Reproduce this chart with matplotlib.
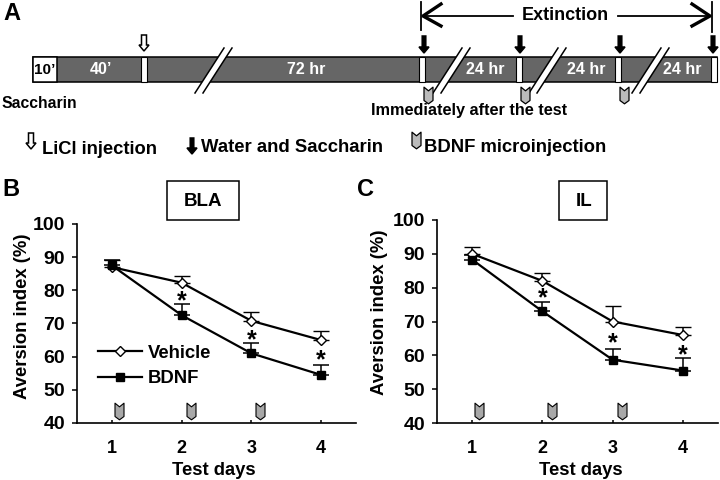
import numpy as np
import matplotlib
matplotlib.use('Agg')
import matplotlib.pyplot as plt
from matplotlib.lines import Line2D
from matplotlib.path import Path
from matplotlib.patches import Rectangle, Polygon

plt.rcParams['font.family'] = ['Liberation Sans', 'DejaVu Sans']
plt.rcParams['font.weight'] = 'bold'

days = [1, 2, 3, 4]
y_ticks = [40, 50, 60, 70, 80, 90, 100]

bla_vehicle = [87, 82.3, 70.8, 65]
bla_vehicle_err = [2, 2.1, 2.6, 2.8]
bla_bdnf = [87.5, 72.5, 61, 54.5]
bla_bdnf_err = [1.5, 3.5, 3, 3]
bla_stars_day = [2, 3, 4]
bla_stars_y = [76.8, 65, 58.9]

il_vehicle = [90, 82, 70, 66]
il_vehicle_err = [2, 2.4, 4.5, 2.3]
il_bdnf = [88.3, 73, 58.7, 55.5]
il_bdnf_err = [1.5, 2.8, 3.1, 3.7]
il_stars_day = [2, 3, 4]
il_stars_y = [76.8, 63.5, 60.1]

injection_days = [1.1, 2.13, 3.13]

# schematic in panel A, pixel positions on the 720x480 picture
slit_x = [141, 419, 516, 615, 711]
water_x = [424, 520, 620, 713]
bdnf_x = [428, 525, 624]
break_x = [195, 433, 529, 632]
bar_labels = [(101, "40’"), (306, '72 hr'), (485, '24 hr'), (586, '24 hr'), (682, '24 hr')]

GRAY = '#666666'
MARK = '#a8a8a8'

# notched top, pointed bottom
bdnf_marker = Path([(-0.27, 0.5), (0, 0.28), (0.27, 0.5), (0.27, -0.3), (0, -0.5), (-0.27, -0.3), (-0.27, 0.5)],
                   [Path.MOVETO] + [Path.LINETO] * 5 + [Path.CLOSEPOLY])


def pixelAxes(fig, left, right, top, bottom):
    return fig.add_axes([left / 720, 1 - bottom / 480, (right - left) / 720, (bottom - top) / 480])


def drawDown(ax, x, y0, y1, fill):
    # block arrow pointing down
    w = 1.8 if fill == 'k' else 2.5
    h = 6
    pts = [(x - w, y0), (x + w, y0), (x + w, y1 - h), (x + 5, y1 - h), (x, y1), (x - 5, y1 - h), (x - w, y1 - h)]
    ax.add_patch(Polygon(pts, closed=True, fc=fill, ec='k', lw=1.1, zorder=5))


def drawBreak(ax, x):
    ax.add_patch(Polygon([(x, 93), (x + 8, 93), (x + 37, 48), (x + 29, 48)], closed=True, fc='white', ec='none', zorder=3))
    ax.plot([x, x + 29], [93, 48], color='k', lw=1.1, zorder=4)
    ax.plot([x + 8, x + 37], [93, 48], color='k', lw=1.1, zorder=4)


def drawPanel(ax, vehicle, vehicle_err, bdnf, bdnf_err, stars_day, stars_y):
    zero = [0, 0, 0, 0]
    ax.errorbar(days, vehicle, yerr=[zero, vehicle_err], color='k', lw=1.6, capsize=5.8, capthick=1.1,
                elinewidth=1.1, marker='D', ms=5.5, mfc='white', mec='k', mew=1.0)
    ax.errorbar(days, bdnf, yerr=[zero, bdnf_err], color='k', lw=1.6, capsize=5.8, capthick=1.1,
                elinewidth=1.1, marker='s', ms=6, mfc='k', mec='k')
    for d, s in zip(stars_day, stars_y):
        ax.text(d, s, '*', ha='center', va='center', fontsize=18)
    ax.plot(injection_days, [43.6] * 3, ls='none', marker=bdnf_marker, ms=12, mfc=MARK, mec='k', mew=0.8, clip_on=False)
    ax.set_xlim(0.5, 4.5)
    ax.set_ylim(40, 100)
    ax.set_xticks(days)
    ax.set_yticks(y_ticks)
    ax.tick_params(axis='y', direction='out', length=3.6, width=1.1, labelsize=14, pad=5)
    ax.tick_params(axis='x', direction='in', length=2.5, width=1.1, labelsize=13, pad=12)
    ax.spines['top'].set_visible(False)
    ax.spines['right'].set_visible(False)
    ax.spines['left'].set_linewidth(1.2)
    ax.spines['bottom'].set_linewidth(1.2)
    ax.set_xlabel('Test days', fontsize=13.2, fontweight='bold', labelpad=4)
    ax.set_ylabel('Aversion index (%)', fontsize=13.3, fontweight='bold')


def main():
    fig = plt.figure(figsize=(7.2, 4.8), dpi=100)

    bg = fig.add_axes([0, 0, 1, 1])
    bg.set_xlim(0, 720)
    bg.set_ylim(480, 0)
    bg.axis('off')

    # timeline bar
    bg.add_patch(Rectangle((33, 57), 684, 25, fc=GRAY, ec='k', lw=1.1))
    bg.add_patch(Rectangle((33, 57), 24, 25, fc='white', ec='k', lw=1.1))
    bg.text(45, 70, "10’", ha='center', va='center', fontsize=11, color='k')
    for x in slit_x:
        bg.add_patch(Rectangle((x, 57), 6, 25, fc='white', ec='k', lw=0.8, zorder=2))
    for x in break_x:
        drawBreak(bg, x)
    for x, s in bar_labels:
        bg.text(x, 70, s, ha='center', va='center', fontsize=11.5, color='white', zorder=6)

    drawDown(bg, 144, 35, 51, 'white')
    for x in water_x:
        drawDown(bg, x, 36, 53, 'k')
    bg.plot(bdnf_x, [95] * 3, ls='none', marker=bdnf_marker, ms=12, mfc='#bbbbbb', mec='k', mew=0.9, zorder=6)

    # extinction bracket
    bg.plot([421, 421], [2, 30], color='k', lw=1.3)
    bg.plot([712, 712], [2, 32], color='k', lw=1.3)
    bg.plot([423, 513], [16, 16], color='k', lw=1.3)
    bg.plot([618, 710], [16, 16], color='k', lw=1.3)
    bg.plot([441, 423, 441], [4, 16, 26], color='k', lw=2.4)
    bg.plot([692, 710, 692], [4, 16, 26], color='k', lw=2.4)
    bg.text(565, 16, 'Extinction', ha='center', va='center', fontsize=13)

    bg.text(2, 103, 'Saccharin', ha='left', va='center', fontsize=11.3)
    bg.text(371, 110, 'Immediately after the test', ha='left', va='center', fontsize=11.7)
    bg.text(42, 149, 'LiCl injection', ha='left', va='center', fontsize=13.2)
    bg.text(201, 148, 'Water and Saccharin', ha='left', va='center', fontsize=13.3)
    bg.text(424, 147, 'BDNF microinjection', ha='left', va='center', fontsize=13.3)
    drawDown(bg, 31, 133, 149, 'white')
    drawDown(bg, 192, 138, 154, 'k')
    bg.plot([416], [140], ls='none', marker=bdnf_marker, ms=12, mfc='#bbbbbb', mec='k', mew=0.9)

    # panel letters and region boxes
    bg.text(3, 14, 'A', ha='left', va='center', fontsize=17)
    bg.text(2, 189, 'B', ha='left', va='center', fontsize=17)
    bg.text(357, 189, 'C', ha='left', va='center', fontsize=17)
    bg.add_patch(Rectangle((167, 181), 72, 39, fc='white', ec='k', lw=1.1))
    bg.text(203, 202, 'BLA', ha='center', va='center', fontsize=13.5)
    bg.add_patch(Rectangle((559, 181), 48, 39, fc='white', ec='k', lw=1.1))
    bg.text(584, 202, 'IL', ha='center', va='center', fontsize=13.5)

    ax_b = pixelAxes(fig, 77, 356, 224, 423)
    ax_b.patch.set_alpha(0)
    drawPanel(ax_b, bla_vehicle, bla_vehicle_err, bla_bdnf, bla_bdnf_err, bla_stars_day, bla_stars_y)
    ax_b.yaxis.set_label_coords(-0.166, 0.538)
    ax_b.xaxis.label.set_x(0.491)
    handles = [Line2D([], [], color='k', lw=1.6, marker='D', ms=5.5, mfc='white', mec='k', mew=1.0),
               Line2D([], [], color='k', lw=1.6, marker='s', ms=6, mfc='k', mec='k')]
    ax_b.legend(handles, ['Vehicle', 'BDNF'], loc='lower left', bbox_to_anchor=(0.075, 0.18), frameon=False,
                fontsize=13.3, handlelength=2.4, handletextpad=0.3, labelspacing=0.45, borderpad=0, borderaxespad=0)

    ax_c = pixelAxes(fig, 437, 718, 220, 423)
    ax_c.patch.set_alpha(0)
    drawPanel(ax_c, il_vehicle, il_vehicle_err, il_bdnf, il_bdnf_err, il_stars_day, il_stars_y)
    ax_c.yaxis.set_label_coords(-0.175, 0.547)
    ax_c.xaxis.label.set_x(0.512)

    fig.savefig('out.png', dpi=100)


if __name__ == '__main__':
    main()
